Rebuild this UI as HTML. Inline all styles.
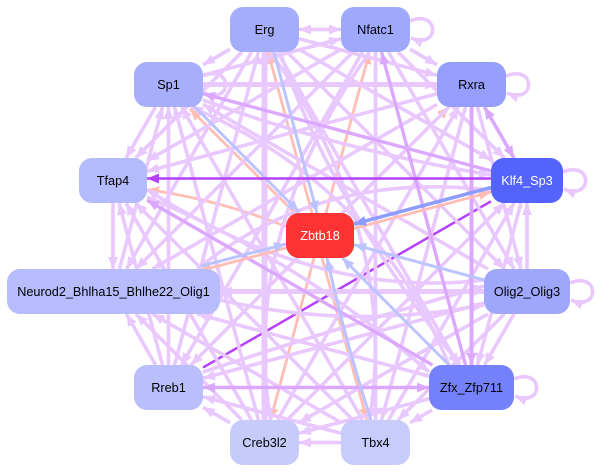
<!DOCTYPE html>
<html><head><meta charset="utf-8"><style>
html,body{margin:0;padding:0;background:#fff;}
svg{display:block;}
text{font-family:"Liberation Sans",Arial,sans-serif;font-size:12.7px;text-anchor:middle;}
.l{stroke:#e9c8ff;stroke-width:3.6;fill:none;marker-end:url(#ml);}
.lb{stroke:#e9c8ff;stroke-width:3.6;fill:none;marker-end:url(#ml);marker-start:url(#ml);}
.d{stroke:#dca8ff;stroke-width:3.4;fill:none;marker-end:url(#md);}
.db{stroke:#dca8ff;stroke-width:3.6;fill:none;marker-end:url(#md);marker-start:url(#md);}
.s{stroke:#ffbdb6;stroke-width:2.8;fill:none;marker-end:url(#ms);}
.b{stroke:#bcc4ff;stroke-width:3;fill:none;marker-end:url(#mb);}
.bb{stroke:#8d9dff;stroke-width:3.5;fill:none;marker-end:url(#mbb);}
.p{stroke:#b640ff;stroke-width:2.5;fill:none;}
</style></head><body>
<svg width="601" height="472" viewBox="0 0 601 472" xmlns="http://www.w3.org/2000/svg">
<defs>
<marker id="ml" markerUnits="userSpaceOnUse" markerWidth="13" markerHeight="11" refX="12" refY="5" orient="auto-start-reverse"><path d="M0,0 L12,5 L0,10 z" fill="#e9c8ff"/></marker>
<marker id="md" markerUnits="userSpaceOnUse" markerWidth="13" markerHeight="11" refX="12" refY="5" orient="auto-start-reverse"><path d="M0,0 L12,5 L0,10 z" fill="#dca8ff"/></marker>
<marker id="ms" markerUnits="userSpaceOnUse" markerWidth="13" markerHeight="11" refX="12" refY="5" orient="auto-start-reverse"><path d="M0,0 L12,5 L0,10 z" fill="#ffbdb6"/></marker>
<marker id="mb" markerUnits="userSpaceOnUse" markerWidth="13" markerHeight="11" refX="12" refY="5" orient="auto-start-reverse"><path d="M0,0 L12,5 L0,10 z" fill="#bcc4ff"/></marker>
<marker id="mbb" markerUnits="userSpaceOnUse" markerWidth="13" markerHeight="11" refX="12" refY="5" orient="auto-start-reverse"><path d="M0,0 L12,5 L0,10 z" fill="#8d9dff"/></marker>
<marker id="mp" markerUnits="userSpaceOnUse" markerWidth="13" markerHeight="11" refX="12" refY="5" orient="auto-start-reverse"><path d="M0,0 L12,5 L0,10 z" fill="#b640ff"/></marker>
</defs>
<rect width="601" height="472" fill="#fff"/>

<!-- purple below (appears broken by crossing edges) -->
<line class="p" x1="491" y1="201.3" x2="203" y2="367.6"/>

<!-- Zbtb18 edges partly below -->
<line class="s" x1="312" y1="213" x2="268" y2="52"/>
<line class="s" x1="326" y1="213" x2="369.5" y2="52"/>
<line class="s" x1="296" y1="214" x2="190" y2="109"/>
<line class="s" x1="342.6" y1="213" x2="449" y2="107"/>
<path class="s" d="M286,226.5 Q220,200 147,189.5"/>
<line class="s" x1="297.6" y1="258" x2="191" y2="365"/>
<line class="s" x1="314" y1="258" x2="270.5" y2="420"/>
<path class="s" d="M322,258 Q345,340 367,420"/>

<!-- ring -->
<line class="lb" x1="299" y1="29.5" x2="341" y2="29.5"/>
<line class="l" x1="230" y1="49.2" x2="203" y2="64.8"/>
<line class="l" x1="410" y1="49.2" x2="437" y2="64.8"/>
<line class="l" x1="527" y1="269" x2="527" y2="203"/>
<line class="l" x1="514" y1="314" x2="484.5" y2="365"/>
<line class="l" x1="432" y1="410" x2="410" y2="422.7"/>
<line class="l" x1="341" y1="442.5" x2="299" y2="442.5"/>
<line class="l" x1="230" y1="422.7" x2="203" y2="407.3"/>
<line class="l" x1="155.6" y1="365" x2="126.4" y2="314"/>
<line class="l" x1="113" y1="203" x2="113" y2="269"/>
<line class="l" x1="155.5" y1="107" x2="126" y2="158"/>

<!-- chords -->
<line class="l" x1="299" y1="38.7" x2="437" y2="75.3"/>
<line class="l" x1="299" y1="49.3" x2="491" y2="159.8"/>
<line class="l" x1="287" y1="52" x2="504.5" y2="269"/>
<line class="l" x1="277.5" y1="52" x2="458.5" y2="365"/>
<path class="l" d="M270.5,52 Q400,236 369.5,420"/>
<line class="l" style="stroke-width:6" x1="264.5" y1="420" x2="264.5" y2="52"/>
<line class="l" x1="174.5" y1="365" x2="258.5" y2="52"/>
<line class="l" x1="251.5" y1="52" x2="126.5" y2="269"/>
<line class="l" x1="242" y1="52" x2="135.6" y2="158"/>

<line class="l" x1="398" y1="52" x2="504.4" y2="158"/>
<line class="l" x1="388.5" y1="52" x2="514" y2="269"/>
<line class="l" x1="375.5" y1="52" x2="375.5" y2="420"/>
<path class="l" d="M369.5,52 Q240,236 270.5,420"/>
<line class="l" x1="362.5" y1="52" x2="181.5" y2="365"/>
<line class="l" x1="353" y1="52" x2="136" y2="269"/>
<line class="l" x1="341" y1="49.3" x2="147" y2="160.9"/>
<line class="l" x1="203" y1="75.3" x2="341" y2="38.7"/>

<line class="l" x1="477.5" y1="107" x2="521" y2="269"/>
<line class="l" x1="465.5" y1="107" x2="381.5" y2="420"/>
<line class="l" x1="277.5" y1="420" x2="458.5" y2="107"/>
<path class="l" d="M449,107 Q265,290 191,365"/>
<line class="l" x1="437" y1="104.5" x2="152.4" y2="269"/>
<line class="l" x1="437" y1="93.7" x2="147" y2="171.4"/>
<line class="l" style="stroke-width:5" x1="203" y1="84.5" x2="437" y2="84.5"/>

<line class="l" x1="521" y1="203" x2="477.5" y2="365"/>
<line class="l" x1="388.5" y1="420" x2="514" y2="203"/>
<line class="l" x1="287" y1="420" x2="504.5" y2="203"/>
<path class="l" d="M491,190.2 Q320,170 197.3,269"/>

<line class="l" x1="504.4" y1="314" x2="398" y2="420"/>
<line class="l" x1="487.9" y1="314" x2="299" y2="422.7"/>
<line class="l" x1="484" y1="303" x2="203" y2="378.3"/>
<line class="lb" style="stroke-width:5" x1="484" y1="291.5" x2="220" y2="291.5"/>
<path class="l" d="M484,280 Q320,300 147,189.6"/>
<line class="l" x1="488" y1="269" x2="203" y2="104.4"/>

<line class="l" x1="429" y1="398.8" x2="299" y2="433.3"/>
<line class="l" x1="429" y1="376.1" x2="197.3" y2="314"/>
<path class="l" d="M449,365 Q375,185 191,107"/>

<line class="l" x1="341" y1="433.3" x2="203" y2="396.7"/>
<line class="l" x1="341" y1="422.6" x2="152.5" y2="314"/>
<line class="l" x1="353" y1="420" x2="135.5" y2="203"/>
<line class="l" x1="362.5" y1="420" x2="181.5" y2="107"/>

<line class="l" x1="242" y1="420" x2="136" y2="314"/>
<line class="l" x1="251.5" y1="420" x2="126" y2="203"/>
<line class="l" x1="258.5" y1="420" x2="174.5" y2="107"/>

<line class="l" x1="162.5" y1="365" x2="119" y2="203"/>
<line class="l" x1="168.5" y1="365" x2="168.5" y2="107"/>
<line class="l" x1="119.5" y1="269" x2="162.5" y2="107"/>

<!-- extra parallel edges for density -->
<path class="l" d="M203,100 Q340,150 491,175"/>
<path class="l" d="M147,197 Q300,260 429,372"/>
<path class="l" d="M220,300 Q350,330 484,305"/>
<path class="l" d="M203,372 Q330,330 484,286"/>
<path class="l" d="M280,52 Q330,200 460,365"/>

<!-- self loops -->
<path class="l" d="M410,21 C440,9 440,50 411,38"/>
<path class="l" d="M506,76 C536,64 536,105 507,93"/>
<path class="l" d="M563,172 C593,160 593,201 564,189"/>
<path class="l" d="M570,283 C600,271 600,312 571,300"/>
<path class="l" d="M514,379 C544,367 544,408 515,396"/>
<path class="l" d="M203,76 C233,64 233,105 204,93"/>

<!-- darker lavender -->
<line class="db" x1="484.5" y1="107" x2="514" y2="158"/>
<line class="d" x1="465.5" y1="365" x2="381.5" y2="52"/>
<line class="d" style="stroke-width:4" x1="471.5" y1="107" x2="471.5" y2="365"/>
<line class="d" x1="491" y1="170.9" x2="203" y2="93.7"/>
<line class="db" x1="429" y1="387.5" x2="203" y2="387.5"/>
<line class="d" x1="432.5" y1="365" x2="147" y2="200.1"/>

<!-- Zbtb18 incoming (blue) on top -->
<line class="b" x1="274" y1="52" x2="317" y2="213"/>
<line class="b" x1="194" y1="106" x2="299" y2="212"/>
<line class="s" x1="354" y1="228.5" x2="491" y2="192"/>
<line class="bb" x1="491" y1="187.5" x2="354" y2="224"/>
<line class="s" x1="286" y1="248" x2="199" y2="271"/>
<line class="b" x1="201" y1="266" x2="286" y2="244"/>
<line class="b" x1="484" y1="279.9" x2="354" y2="244.7"/>
<line class="b" x1="449" y1="365" x2="342.4" y2="258"/>
<path class="b" d="M371,420 Q345,340 327,258"/>

<!-- strong purple horizontal -->
<line class="p" style="marker-end:url(#mp)" x1="491" y1="178.5" x2="147" y2="178.5"/>

<!-- nodes -->
<g>
<rect x="230" y="7" width="69" height="45" rx="13" fill="#a4adfc"/>
<text x="264.5" y="34">Erg</text>
<rect x="341" y="7" width="69" height="45" rx="13" fill="#9fa9fc"/>
<text x="375.5" y="34">Nfatc1</text>
<rect x="134" y="62" width="69" height="45" rx="13" fill="#a7affc"/>
<text x="168.5" y="89">Sp1</text>
<rect x="437" y="62" width="69" height="45" rx="13" fill="#959ffb"/>
<text x="471.5" y="89">Rxra</text>
<rect x="79" y="158" width="68" height="45" rx="13" fill="#b4bbfc"/>
<text x="113" y="185">Tfap4</text>
<rect x="491" y="158" width="72" height="45" rx="13" fill="#5363fb"/>
<text x="527" y="185" fill="#fff">Klf4_Sp3</text>
<rect x="286" y="213" width="68" height="45" rx="13" fill="#ff3333"/>
<text x="320" y="240" fill="#fff">Zbtb18</text>
<rect x="7" y="269" width="213" height="45" rx="13" fill="#b7bdfc"/>
<text x="113.5" y="296">Neurod2_Bhlha15_Bhlhe22_Olig1</text>
<rect x="484" y="269" width="86" height="45" rx="13" fill="#9ea7fb"/>
<text x="527" y="296">Olig2_Olig3</text>
<rect x="134" y="365" width="69" height="45" rx="13" fill="#b9bffc"/>
<text x="168.5" y="392">Rreb1</text>
<rect x="429" y="365" width="85" height="45" rx="13" fill="#7481fb"/>
<text x="471.5" y="392">Zfx_Zfp711</text>
<rect x="230" y="420" width="69" height="45" rx="13" fill="#c6cbfc"/>
<text x="264.5" y="447">Creb3l2</text>
<rect x="341" y="420" width="69" height="45" rx="13" fill="#c7ccfc"/>
<text x="375.5" y="447">Tbx4</text>
</g>
</svg>
</body></html>
